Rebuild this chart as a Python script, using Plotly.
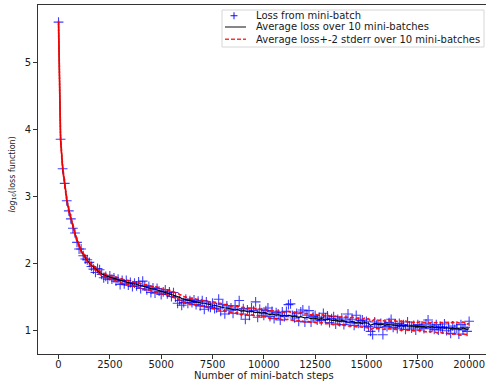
import plotly.graph_objects as go

# ---------------- data (one value every 100 steps) ----------------
steps = list(range(0, 20001, 100))

avg_loss = [
    5.60, 3.85, 3.42, 3.18, 2.95, 2.79, 2.66, 2.54, 2.44, 2.34, 2.25, 2.19, 2.13, 2.08, 2.04, 2.00, 1.97, 1.94, 1.91, 1.88, 1.86,
    1.84, 1.82, 1.81, 1.80, 1.79, 1.78, 1.77, 1.76, 1.75, 1.74, 1.73, 1.72, 1.72, 1.71, 1.70, 1.69, 1.69, 1.68, 1.67, 1.66,
    1.65, 1.64, 1.64, 1.63, 1.62, 1.61, 1.61, 1.60, 1.59, 1.58, 1.57, 1.57, 1.56, 1.55, 1.54, 1.53, 1.52, 1.51, 1.49, 1.47,
    1.46, 1.45, 1.44, 1.43, 1.43, 1.42, 1.42, 1.41, 1.41, 1.40, 1.40, 1.39, 1.38, 1.38, 1.37, 1.37, 1.36, 1.35, 1.35, 1.34,
    1.33, 1.33, 1.32, 1.31, 1.31, 1.30, 1.31, 1.29, 1.28, 1.29, 1.28, 1.27, 1.27, 1.28, 1.27, 1.26, 1.27, 1.26, 1.25, 1.26,
    1.25, 1.24, 1.23, 1.24, 1.23, 1.22, 1.23, 1.22, 1.21, 1.22, 1.21, 1.22, 1.21, 1.20, 1.21, 1.20, 1.19, 1.20, 1.19, 1.18,
    1.19, 1.18, 1.17, 1.18, 1.17, 1.17, 1.16, 1.17, 1.16, 1.15, 1.16, 1.15, 1.15, 1.14, 1.15, 1.14, 1.13, 1.14, 1.13, 1.13,
    1.12, 1.12, 1.13, 1.12, 1.11, 1.12, 1.11, 1.10, 1.11, 1.10, 1.10, 1.07, 1.08, 1.10, 1.09, 1.08, 1.09, 1.08, 1.07, 1.08,
    1.08, 1.07, 1.08, 1.07, 1.07, 1.06, 1.07, 1.06, 1.07, 1.06, 1.06, 1.06, 1.05, 1.06, 1.05, 1.06, 1.05, 1.05, 1.04, 1.05,
    1.04, 1.05, 1.04, 1.04, 1.03, 1.04, 1.03, 1.04, 1.03, 1.03, 1.02, 1.03, 1.02, 1.03, 1.02, 1.01, 1.03, 1.02, 1.01, 1.02,
    1.01,
]

stderr = [
    0.010, 0.010, 0.008, 0.008, 0.008, 0.007, 0.007, 0.007, 0.007, 0.007, 0.008, 0.008, 0.008, 0.009, 0.009, 0.010, 0.010, 0.011, 0.011, 0.012, 0.012,
    0.012, 0.013, 0.012, 0.013, 0.014, 0.013, 0.014, 0.015, 0.014, 0.015, 0.016, 0.015, 0.014, 0.016, 0.017, 0.016, 0.015, 0.017, 0.018, 0.017,
    0.018, 0.017, 0.019, 0.018, 0.017, 0.019, 0.020, 0.018, 0.019, 0.020, 0.018, 0.019, 0.021, 0.020, 0.019, 0.021, 0.022, 0.020, 0.021, 0.022,
    0.020, 0.021, 0.022, 0.021, 0.023, 0.022, 0.021, 0.023, 0.024, 0.022, 0.023, 0.024, 0.022, 0.023, 0.025, 0.024, 0.022, 0.024, 0.025, 0.023,
    0.024, 0.026, 0.024, 0.023, 0.025, 0.026, 0.024, 0.025, 0.027, 0.025, 0.024, 0.026, 0.027, 0.025, 0.026, 0.028, 0.026, 0.025, 0.027, 0.028,
    0.026, 0.027, 0.029, 0.027, 0.026, 0.028, 0.027, 0.029, 0.028, 0.026, 0.028, 0.029, 0.027, 0.028, 0.030, 0.028, 0.027, 0.029, 0.028, 0.030,
    0.028, 0.029, 0.027, 0.030, 0.029, 0.028, 0.030, 0.029, 0.031, 0.028, 0.030, 0.029, 0.031, 0.030, 0.028, 0.030, 0.031, 0.029, 0.030, 0.032,
    0.030, 0.029, 0.031, 0.030, 0.032, 0.030, 0.031, 0.029, 0.033, 0.031, 0.034, 0.032, 0.030, 0.031, 0.033, 0.030, 0.032, 0.031, 0.030, 0.032,
    0.031, 0.030, 0.032, 0.031, 0.029, 0.031, 0.033, 0.030, 0.032, 0.031, 0.030, 0.032, 0.031, 0.033, 0.030, 0.032, 0.031, 0.033, 0.034, 0.032,
    0.033, 0.035, 0.034, 0.036, 0.038, 0.037, 0.039, 0.041, 0.040, 0.043, 0.042, 0.045, 0.041, 0.044, 0.046, 0.043, 0.045, 0.042, 0.040, 0.038,
    0.038,
]

minibatch_loss = [
    5.60, 3.85, 3.41, 3.19, 2.93, 2.78, 2.66, 2.52, 2.45, 2.31, 2.21, 2.21, 2.11, 2.06, 2.05, 2.01, 1.95, 1.91, 1.86, 1.92, 1.90,
    1.83, 1.78, 1.80, 1.76, 1.81, 1.76, 1.78, 1.73, 1.76, 1.68, 1.74, 1.69, 1.74, 1.67, 1.71, 1.65, 1.70, 1.66, 1.72, 1.62,
    1.73, 1.66, 1.60, 1.65, 1.56, 1.63, 1.55, 1.62, 1.58, 1.53, 1.57, 1.60, 1.54, 1.57, 1.50, 1.56, 1.49, 1.40, 1.44, 1.37,
    1.41, 1.46, 1.40, 1.44, 1.41, 1.45, 1.38, 1.43, 1.36, 1.44, 1.31, 1.42, 1.35, 1.34, 1.40, 1.32, 1.33, 1.46, 1.28, 1.38,
    1.24, 1.36, 1.30, 1.33, 1.25, 1.36, 1.30, 1.44, 1.24, 1.32, 1.16, 1.30, 1.22, 1.33, 1.29, 1.42, 1.19, 1.31, 1.26, 1.22,
    1.29, 1.33, 1.20, 1.28, 1.17, 1.26, 1.24, 1.15, 1.27, 1.20, 1.28, 1.38, 1.39, 1.22, 1.18, 1.25, 1.13, 1.27, 1.30, 1.12,
    1.22, 1.29, 1.12, 1.20, 1.22, 1.15, 1.19, 1.14, 1.25, 1.18, 1.21, 1.11, 1.17, 1.20, 1.09, 1.16, 1.13, 1.18, 1.08, 1.15,
    1.24, 1.11, 1.16, 1.07, 1.22, 1.10, 1.14, 1.15, 1.06, 1.13, 1.05, 0.98, 0.93, 1.12, 1.08, 1.04, 1.10, 0.93, 1.09, 1.05,
    1.11, 1.16, 1.04, 1.09, 1.02, 1.10, 1.05, 1.08, 1.01, 1.12, 1.06, 1.03, 1.07, 1.00, 1.08, 1.04, 1.06, 1.02, 1.09, 1.15,
    1.03, 1.06, 1.01, 1.08, 1.00, 1.05, 1.02, 1.09, 0.99, 1.04, 0.95, 1.06, 1.01, 1.03, 0.94, 1.08, 1.00, 1.04, 0.98, 1.13,
    0.95,
]

x_ticks = [0, 2500, 5000, 7500, 10000, 12500, 15000, 17500, 20000]
y_ticks = [1, 2, 3, 4, 5]
legend_labels = ["Loss from mini-batch", "Average loss over 10 mini-batches",
                 "Average loss+-2 stderr over 10 mini-batches"]

upper = [a + 2 * s for a, s in zip(avg_loss, stderr)]
lower = [a - 2 * s for a, s in zip(avg_loss, stderr)]

# ---------------- geometry ----------------
W, H = 486, 382
L, R, T, B = 38, 486, 5, 354          # plot area in pixels
pw, ph = R - L, B - T


def pxx(x):
    return (x - L) / pw


def pxy(y):
    return (B - y) / ph


FONT = "DejaVu Sans"
TXT = "#1a1a1a"

fig = go.Figure()
fig.add_trace(go.Scatter(
    x=steps, y=minibatch_loss, mode="markers", name=legend_labels[0],
    marker=dict(symbol="cross-thin", size=7, line=dict(width=1.1, color="rgba(0,0,255,0.75)"),
                color="rgba(0,0,255,0.75)"),
    showlegend=False,
))
fig.add_trace(go.Scatter(
    x=steps, y=avg_loss, mode="lines", name=legend_labels[1],
    line=dict(color="black", width=1.1), showlegend=False,
))
for arr in (upper, lower):
    fig.add_trace(go.Scatter(
        x=steps, y=arr, mode="lines", name=legend_labels[2],
        line=dict(color="rgba(255,0,0,0.9)", width=1.7, dash="4px,2px"), showlegend=False,
    ))

# manual legend (matplotlib-style compact box)
shapes = [
    dict(type="rect", xref="paper", yref="paper", x0=pxx(222), x1=pxx(484), y0=pxy(10), y1=pxy(47),
         line=dict(color="#d6d6d6", width=1), fillcolor="rgba(255,255,255,0.85)", layer="above"),
    dict(type="line", xref="paper", yref="paper", x0=pxx(230.5), x1=pxx(237.5), y0=pxy(15.7), y1=pxy(15.7),
         line=dict(color="rgba(0,0,255,0.85)", width=1.1), layer="above"),
    dict(type="line", xref="paper", yref="paper", x0=pxx(234), x1=pxx(234), y0=pxy(12.2), y1=pxy(19.2),
         line=dict(color="rgba(0,0,255,0.85)", width=1.1), layer="above"),
    dict(type="line", xref="paper", yref="paper", x0=pxx(225), x1=pxx(246), y0=pxy(27), y1=pxy(27),
         line=dict(color="#444", width=1.3), layer="above"),
    dict(type="line", xref="paper", yref="paper", x0=pxx(225), x1=pxx(246), y0=pxy(39.3), y1=pxy(39.3),
         line=dict(color="rgba(255,0,0,0.8)", width=1.5, dash="4px,2px"), layer="above"),
]

annotations = []
for lbl, yy in zip(legend_labels, [15.7, 27.0, 39.3]):
    annotations.append(dict(text=lbl, xref="paper", yref="paper", x=pxx(253.5), y=pxy(yy),
                            xanchor="left", yanchor="middle", showarrow=False,
                            font=dict(family=FONT, size=10, color=TXT)))
annotations.append(dict(text="Number of mini-batch steps", xref="paper", yref="paper",
                        x=pxx(264), y=pxy(375), xanchor="center", yanchor="middle", showarrow=False,
                        font=dict(family=FONT, size=10, color=TXT)))
annotations.append(dict(text="<i>log</i><sub>10</sub>(loss function)", xref="paper", yref="paper",
                        x=pxx(12.5), y=pxy(175), xanchor="center", yanchor="middle", showarrow=False,
                        textangle=-90, font=dict(family=FONT, size=8, color=TXT)))

fig.update_layout(
    width=W, height=H,
    margin=dict(l=L, r=W - R, t=T, b=H - B, pad=0),
    paper_bgcolor="white", plot_bgcolor="white",
    font=dict(family=FONT, size=10, color=TXT),
    shapes=shapes, annotations=annotations,
    showlegend=False,
)
fig.update_xaxes(
    range=[-1000, -1000 + pw / 0.02053], tickvals=x_ticks, ticktext=[str(v) for v in x_ticks],
    showgrid=False, zeroline=False, showline=True, linecolor="#333", linewidth=1, mirror=True,
    ticks="outside", ticklen=4, tickcolor="#333", tickwidth=1, ticklabelstandoff=-3,
    tickfont=dict(family=FONT, size=10, color=TXT),
)
fig.update_yaxes(
    range=[1 - (B - 330) / 67.0, 5 + (62.3 - T) / 67.0], tickvals=y_ticks, ticktext=[str(v) for v in y_ticks],
    showgrid=False, zeroline=False, showline=True, linecolor="#333", linewidth=1, mirror=True,
    ticks="outside", ticklen=4, tickcolor="#333", tickwidth=1,
    tickfont=dict(family=FONT, size=10, color=TXT),
)

fig.write_html("out.html")
